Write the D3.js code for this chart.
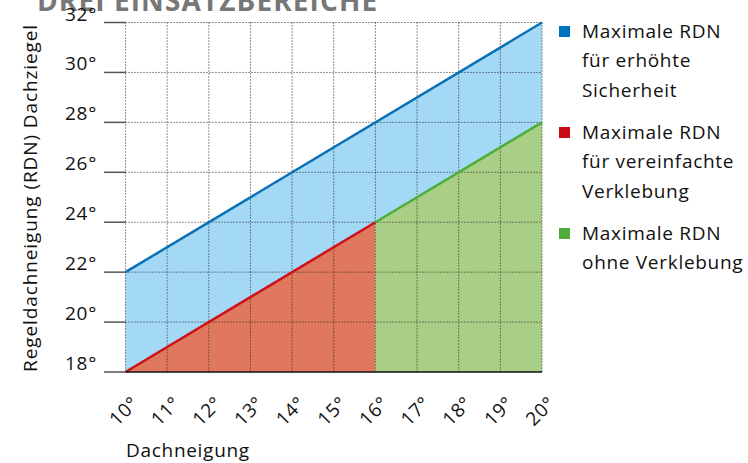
<!DOCTYPE html>
<meta charset="utf-8">
<title>Drei Einsatzbereiche</title>
<style>
body { margin: 0; background: #fff; }
text { font-family: "Open Sans", sans-serif; fill: #111; font-size: 19px; letter-spacing: 0.7px; }
.grid line { stroke: #222; stroke-width: 1px; stroke-dasharray: 1,2; }
</style>
<body>
<script src="https://cdnjs.cloudflare.com/ajax/libs/d3/7.8.5/d3.min.js"></script>
<script>

var width = 748, height = 463;

// data
var xTicks = [10, 11, 12, 13, 14, 15, 16, 17, 18, 19, 20];
var yTicks = [18, 20, 22, 24, 26, 28, 30, 32];
var blueLine = [[10, 22], [20, 32]];      // Maximale RDN fuer erhoehte Sicherheit
var redLine = [[10, 18], [16, 24]];       // vereinfachte Verklebung
var greenLine = [[16, 24], [20, 28]];     // ohne Verklebung
var legendLabels = [
  ["Maximale RDN", "für erhöhte", "Sicherheit"],
  ["Maximale RDN", "für vereinfachte", "Verklebung"],
  ["Maximale RDN", "ohne Verklebung"]
];
var legendColors = ["#0072bf", "#cc0a14", "#4fab3c"];

var svg = d3.select("body").append("svg")
    .attr("width", width)
    .attr("height", height);

var x = d3.scaleLinear().domain([10, 20]).range([125.5, 542]);
var y = d3.scaleLinear().domain([18, 32]).range([372, 22.5]);

// title (cut off at top), drawn first so the 32° label sits over it
svg.append("text")
  .attr("x", 37).attr("y", 11)
  .style("font-size", "28px")
  .style("font-weight", "bold")
  .style("letter-spacing", "1.1px")
  .style("fill", "#777")
  .text("DREI EINSATZBEREICHE");

// areas
var lower = redLine.concat(greenLine.slice(1));
svg.append("path")
  .attr("fill", "#a4d9f6")
  .attr("d", d3.area()
    .x(d => x(d[0]))
    .y0(d => y(d[1]))
    .y1(d => y(d[1] + 4))(lower));

svg.append("path")
  .attr("fill", "#e0785d")
  .attr("d", d3.area().x(d => x(d[0])).y0(y(18)).y1(d => y(d[1]))(redLine));

svg.append("path")
  .attr("fill", "#a9cf87")
  .attr("d", d3.area().x(d => x(d[0])).y0(y(18)).y1(d => y(d[1]))(greenLine));

// grid
var grid = svg.append("g").attr("class", "grid");
grid.selectAll(".v").data(xTicks).enter().append("line")
  .attr("x1", d => x(d)).attr("x2", d => x(d))
  .attr("y1", y(32)).attr("y2", y(18));
grid.selectAll(".h").data(yTicks.slice(1)).enter().append("line")
  .attr("x1", x(10)).attr("x2", x(20))
  .attr("y1", d => y(d)).attr("y2", d => y(d));

// lines
var line = d3.line().x(d => x(d[0])).y(d => y(d[1]));
svg.append("path").attr("d", line(blueLine))
  .attr("fill", "none").attr("stroke", "#0a70b8").attr("stroke-width", 2.5);
svg.append("path").attr("d", line(redLine))
  .attr("fill", "none").attr("stroke", "#d0101a").attr("stroke-width", 2.5);
svg.append("path").attr("d", line(greenLine))
  .attr("fill", "none").attr("stroke", "#4fae38").attr("stroke-width", 2.5);

// x axis line
svg.append("line")
  .attr("x1", x(10)).attr("x2", x(20))
  .attr("y1", y(18)).attr("y2", y(18))
  .attr("stroke", "#111").attr("stroke-width", 1.5);

// y ticks + labels
svg.selectAll(".ytick").data(yTicks).enter().append("line")
  .attr("x1", 104).attr("x2", x(10))
  .attr("y1", d => y(d)).attr("y2", d => y(d))
  .attr("stroke", "#555").attr("stroke-width", 1.5);

svg.selectAll(".ylab").data(yTicks).enter().append("text")
  .attr("x", 97).attr("y", d => y(d) - 2)
  .attr("text-anchor", "end")
  .text(d => d + "°");

// x tick labels
svg.selectAll(".xlab").data(xTicks).enter().append("text")
  .attr("transform", d => "translate(" + (x(d) + 5) + "," + (y(18) + 23) + ") rotate(-45)")
  .attr("text-anchor", "end")
  .attr("dy", "0.7em")
  .text(d => d + "°");

// axis titles
svg.append("text")
  .attr("x", 126).attr("y", 457)
  .text("Dachneigung");

svg.append("text")
  .attr("transform", "translate(37,198) rotate(-90)")
  .attr("text-anchor", "middle")
  .style("letter-spacing", "0.9px")
  .text("Regeldachneigung (RDN) Dachziegel");

// legend
var lg = svg.selectAll(".leg").data(legendLabels).enter().append("g")
  .attr("transform", (d, i) => "translate(559," + (26 + i * 101) + ")");
lg.append("rect").attr("width", 11).attr("height", 11)
  .attr("fill", (d, i) => legendColors[i]);
lg.each(function(d) {
  d3.select(this).selectAll("text").data(d).enter().append("text")
    .attr("x", 23).attr("y", (t, j) => 11.5 + j * 29.5)
    .text(t => t);
});

</script>
</body>
</html>
